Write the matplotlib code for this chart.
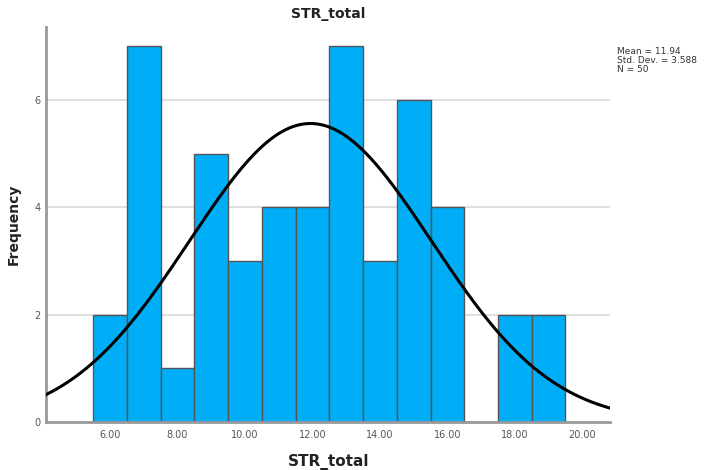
import numpy as np
import matplotlib.pyplot as plt

# bin centres and counts (bin width 1)
bin_centers = [6, 7, 8, 9, 10, 11, 12, 13, 14, 15, 16, 17, 18, 19]
counts = [2, 7, 1, 5, 3, 4, 4, 7, 3, 6, 4, 0, 2, 2]
mean = 11.94
std_dev = 3.588
n = 50
x_ticks = [6, 8, 10, 12, 14, 16, 18, 20]
y_ticks = [0, 2, 4, 6]

fig = plt.figure(figsize=(7.08, 4.7), dpi=100)
ax = fig.add_axes([0.065, 0.102, 0.797, 0.841])

# gridlines behind the bars
for y in y_ticks[1:]:
    ax.axhline(y, color='#d9d9d9', lw=1.2, zorder=0)

ax.bar(bin_centers, counts, width=1.0, color='#00aef8', edgecolor='#555555',
       linewidth=1.0, zorder=2)

# normal curve scaled to counts
xs = np.linspace(4.1, 20.83, 300)
ys = n * 1.0 / (std_dev * np.sqrt(2 * np.pi)) * np.exp(-0.5 * ((xs - mean) / std_dev) ** 2)
ax.plot(xs, ys, color='black', lw=2.2, zorder=3)

ax.set_xlim(4.1, 20.83)
ax.set_ylim(0, 7.36)
ax.set_xticks(x_ticks)
ax.set_xticklabels(['%.2f' % t for t in x_ticks])
ax.set_yticks(y_ticks)
ax.tick_params(axis='both', length=0, labelsize=7, colors='#555555', pad=6)
ax.tick_params(axis='y', pad=4)

for side in ['top', 'right']:
    ax.spines[side].set_visible(False)
ax.spines['left'].set_color('#999999')
ax.spines['left'].set_linewidth(2)
ax.spines['bottom'].set_color('#999999')
ax.spines['bottom'].set_linewidth(2)

ax.set_title('STR_total', fontsize=10, fontweight='bold', color='#222222', pad=6)
ax.set_xlabel('STR_total', fontsize=11, fontweight='bold', color='#222222', labelpad=10)
ax.set_ylabel('Frequency', fontsize=10, fontweight='bold', color='#222222', labelpad=10)

fig.text(0.872, 0.9, 'Mean = %.2f\nStd. Dev. = %.3f\nN = %d' % (mean, std_dev, n),
         fontsize=6.5, color='#333333', va='top', ha='left', linespacing=1.0)

fig.savefig('out.png', dpi=100)
